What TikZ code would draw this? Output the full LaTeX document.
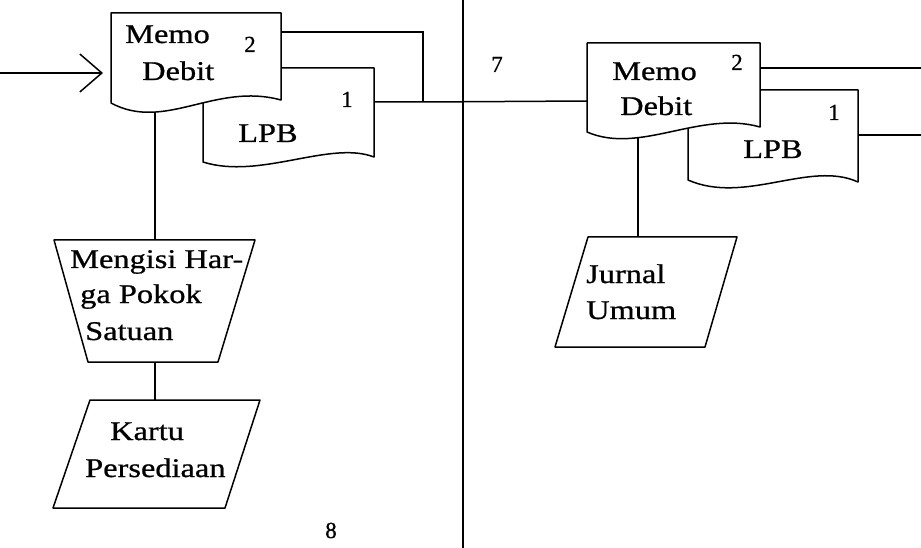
\documentclass[tikz,border=0pt]{standalone}
\usepackage{fontspec}
\setmainfont{Liberation Serif}[FakeStretch=1.2,FakeBold=0.8]
\newfontfamily\numfont{Liberation Serif}[FakeBold=0.8]
\usetikzlibrary{arrows.meta}
\begin{document}
\begin{tikzpicture}[x=1pt,y=-1pt,
  line/.style={line width=1.5pt,draw=black},
  shp/.style={line width=1.5pt,draw=black,fill=white,line join=round},
  txt/.style={inner sep=0pt,anchor=base west,font=\fontsize{27}{33}\selectfont},
  num/.style={inner sep=0pt,anchor=base,font=\numfont\fontsize{23}{27}\selectfont}]
\fill[white] (0,0) rectangle (921,548);
\useasboundingbox (0,0) rectangle (921,548);

% named points
\coordinate (in) at (0,73);
\coordinate (lmL) at (111,73);
\coordinate (lmR) at (281,32);
\coordinate (j1) at (423,32);
\coordinate (j2) at (423,102);
\coordinate (llR) at (374,102);
\coordinate (rmL) at (587,101);
\coordinate (lmB) at (155,110);
\coordinate (tzT) at (155,240);
\coordinate (tzB) at (155,362);
\coordinate (kpT) at (155,400);
\coordinate (rmR) at (760,68);
\coordinate (outA) at (921,68);
\coordinate (rlR) at (858,135);
\coordinate (outB) at (921,135);
\coordinate (rmB) at (638,138);
\coordinate (jpT) at (638,237);
\coordinate (divT) at (463,0);
\coordinate (divB) at (463,548);

% connectors
\draw[line] (divT) -- (divB);
\draw[line,-{Straight Barb[length=22pt,width=38pt,line width=1.5pt]},shorten >=8pt] (in) -- (lmL);
\draw[line] (lmR) -- (j1) -- (j2);
\draw[line] (llR) -- (j2) -- (rmL);
\draw[line] (lmB) -- (tzT);
\draw[line] (tzB) -- (kpT);
\draw[line] (rmR) -- (outA);
\draw[line] (rlR) -- (outB);
\draw[line] (rmB) -- (jpT);

% left LPB document
\draw[shp] (203,68) -- (374,68) -- (374,157)
  .. controls (330,140) and (260,180) .. (203,162) -- cycle;
% left Memo Debit document
\draw[shp] (111,13) -- (281,13) -- (281,100)
  .. controls (215,82) and (165,132) .. (111,103) -- cycle;

% right LPB document
\draw[shp] (688,90) -- (858,90) -- (858,182)
  .. controls (810,160) and (745,205) .. (688,180) -- cycle;
% right Memo Debit document
\draw[shp] (587,43) -- (760,43) -- (760,127)
  .. controls (700,110) and (640,155) .. (587,132) -- cycle;

% manual operation (trapezoid)
\draw[shp] (54,240) -- (255,240) -- (218,362) -- (88,362) -- cycle;
% Kartu Persediaan
\draw[shp] (90,400) -- (260,400) -- (225,508) -- (53,508) -- cycle;
% Jurnal Umum
\draw[shp] (588,237) -- (737,237) -- (705,347) -- (555,347) -- cycle;

% texts
\node[txt] (t1) at (125,43) {Memo};
\node[txt] (t2) at (142,80) {Debit};
\node[num] (n2a) at (250,52) {2};
\node[num] (n1a) at (347,107) {1};
\node[txt] (t3) at (238,142) {LPB};

\node[txt] (t4) at (612,80) {Memo};
\node[txt] (t5) at (620,115) {Debit};
\node[num] (n2b) at (737,70) {2};
\node[num] (n1b) at (834,120) {1};
\node[txt] (t6) at (743,158) {LPB};

\node[txt] (t7) at (70,268) {Mengisi Har-};
\node[txt] (t8) at (80,303) {ga Pokok};
\node[txt] (t9) at (85,340) {Satuan};

\node[txt] (t10) at (110,440) {Kartu};
\node[txt] (t11) at (85,477) {Persediaan};

\node[txt] (t12) at (586,283) {Jurnal};
\node[txt] (t13) at (586,319) {Umum};

\node[num] (n7) at (497,72) {7};
\node[num] (n8) at (331,538) {8};
\end{tikzpicture}
\end{document}
